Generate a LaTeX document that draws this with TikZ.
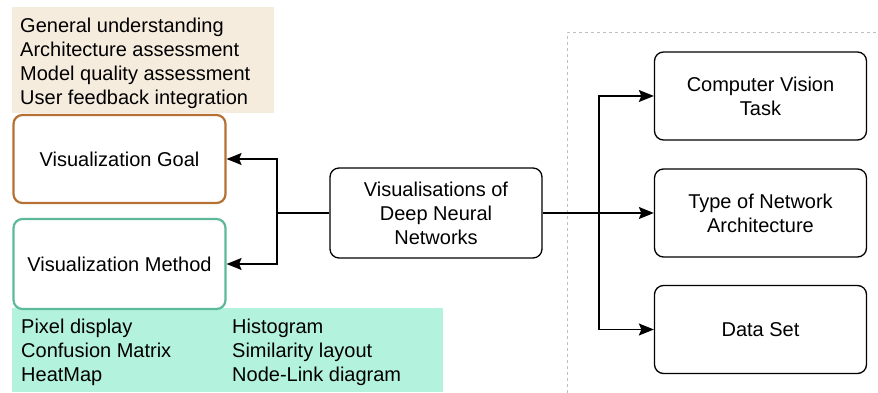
\documentclass[tikz,border=0pt]{standalone}
\usepackage{fontspec}
\setmainfont{Liberation Sans}
\usetikzlibrary{arrows.meta}
\usetikzlibrary{calc,positioning}

\definecolor{goalline}{RGB}{181,112,52}
\definecolor{goalfill}{RGB}{245,236,222}
\definecolor{methline}{RGB}{92,186,152}
\definecolor{methfill}{RGB}{179,242,221}

\begin{document}
\begin{tikzpicture}[x=1pt,y=1pt,font=\fontsize{20}{24}\selectfont,
	box/.style={draw, rounded corners=9pt, line width=1.3pt, minimum width=212pt, minimum height=88pt, align=center, inner sep=0pt},
	link/.style={line width=1.3pt, -{Stealth[length=15pt,width=12pt,inset=2.5pt]}}]

		\useasboundingbox (0,0) rectangle (878,393);

		% dotted frame on the right
		\draw [gray!50, line width=1pt, dash pattern=on 2.5pt off 3.5pt] (567,0) |- (878,360);

		\coordinate (split) at (277,180);
		\coordinate (fork) at (599,180);

		% lists of goals and methods
		\node (goals) [fill=goalfill, anchor=north west, minimum width=262pt, minimum height=106pt] at (11.5,386) {};
		\node (goallist) [anchor=west, align=left, inner sep=0pt] at ($(goals.west)+(8.5,-3)$) {General understanding\\Architecture assessment\\Model quality assessment\\User feedback integration};
		\node (methods) [fill=methfill, anchor=north west, minimum width=431pt, minimum height=84pt] at (12,85) {};
		\node (methlist) [anchor=west, inner sep=0pt] at ($(methods.west)+(9,-2.5)$)
			{\begin{tabular}{@{}p{211pt}@{}l@{}}Pixel display & Histogram\\Confusion Matrix & Similarity layout\\HeatMap & Node-Link diagram\end{tabular}};

		\node (goal) [box, draw=goalline, line width=2.2pt] at (119.5,234) {Visualization Goal};
		\node (method) [box, draw=methline, line width=2.2pt, minimum height=90pt] at (119.5,129) {Visualization Method};

		\node (dnn) [box, minimum height=90pt] at (436,180) {Visualisations of\\Deep Neural\\Networks};

		\node (task) [box] at (760.5,297) {Computer Vision\\Task};
		\node (arch) [box] at (760.5,180) {Type of Network\\Architecture};
		\node (data) [box] at (760.5,63.5) {Data Set};

		\draw [link] (dnn.west)--(split) |- (goal.east);
		\draw [link] (split) |- (method.east);

		\draw [link] (dnn.east)--(arch.west);
		\draw [link] (fork) |- (task.west);
		\draw [link] (fork) |- (data.west);
\end{tikzpicture}
\end{document}
